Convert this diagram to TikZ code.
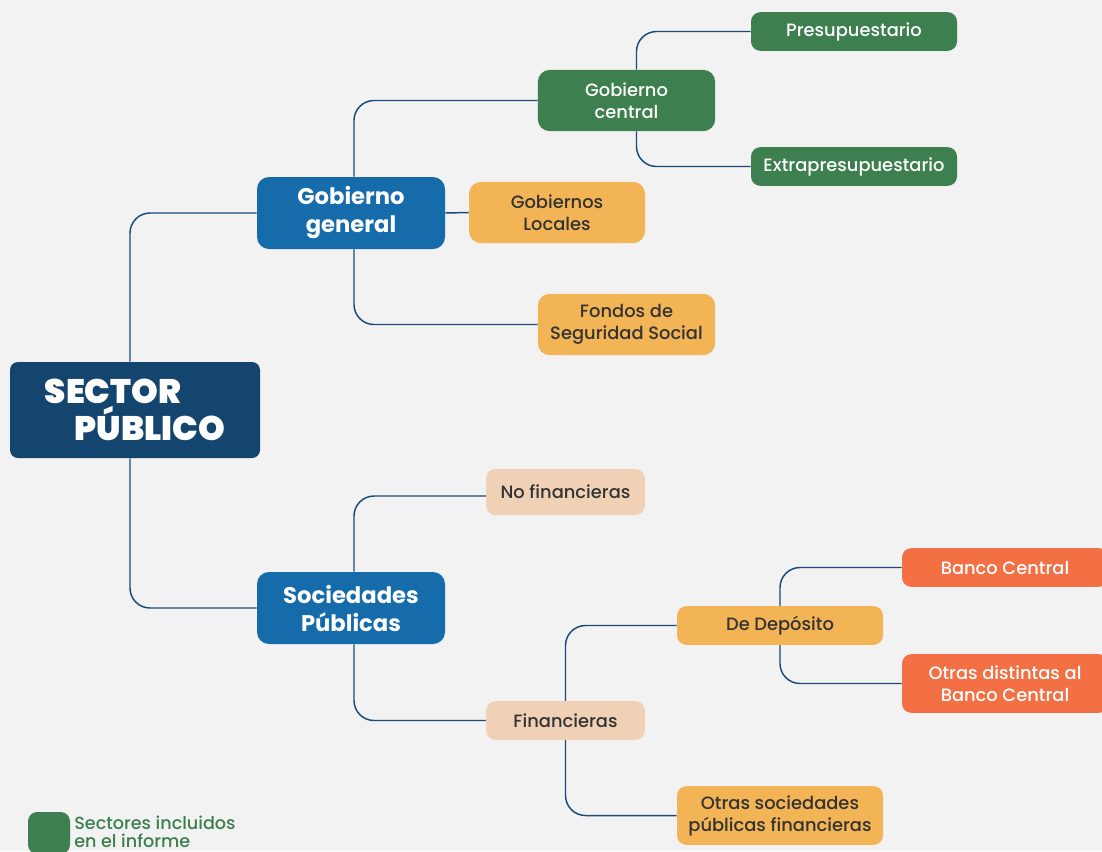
\documentclass[tikz,border=0pt]{standalone}
\usepackage{fontspec}
\setmainfont{Poppins}[UprightFont=* Medium,BoldFont=* Bold]
\newfontfamily\titulofont{Poppins Black}
\definecolor{fondo}{HTML}{F2F2F2}
\definecolor{marino}{HTML}{13456F}
\definecolor{azul}{HTML}{166CAB}
\definecolor{verde}{HTML}{3D7F4F}
\definecolor{naranja}{HTML}{F2B455}
\definecolor{durazno}{HTML}{F0D1B5}
\definecolor{coral}{HTML}{F37044}
\definecolor{linea}{HTML}{1B4A78}
\definecolor{texto}{HTML}{333333}
\begin{document}
\begin{tikzpicture}[x=0.75pt,y=-0.75pt]
\tikzstyle{every node}=[rectangle,rounded corners=9pt,inner sep=0pt,align=center,font=\fontsize{13.4}{16.5}\selectfont]
\tikzstyle{conn}=[draw=linea,line width=1.1pt,rounded corners=15pt]
\useasboundingbox (0,0) rectangle (1102,851);
\fill[fondo] (0,0) rectangle (1102,851);
\clip (0,0) rectangle (1102,851);
% raiz
\node[fill=marino,text=white,rounded corners=6pt,minimum width=187.5pt,minimum height=72pt,align=left,font=\fontsize{25.5}{28}\titulofont](sector) at (135,410) {SECTOR\\\hspace*{22.5pt}PÚBLICO};
% segundo nivel
\node[fill=azul,text=white,minimum width=141pt,minimum height=54pt,font=\fontsize{17}{21}\selectfont\bfseries](gobgen) at (351,213) {Gobierno\\general};
\node[fill=azul,text=white,minimum width=141pt,minimum height=54pt,font=\fontsize{17}{21}\selectfont\bfseries](socpub) at (351,608) {Sociedades\\Públicas};
% gobierno general
\node[fill=verde,text=white,minimum width=133pt,minimum height=46pt](gobcen) at (626.5,100.5) {Gobierno\\central};
\node[fill=verde,text=white,minimum width=154.5pt,minimum height=29pt,rounded corners=7pt](presup) at (854,31.5) {Presupuestario};
\node[fill=verde,text=white,minimum width=154.5pt,minimum height=29pt,rounded corners=7pt](extra) at (854,166.5) {Extrapresupuestario};
\node[fill=naranja,text=texto,minimum width=132pt,minimum height=46pt](gobloc) at (557,212.5) {Gobiernos\\Locales};
\node[fill=naranja,text=texto,minimum width=133pt,minimum height=46pt](fondos) at (626.5,324.5) {Fondos de\\Seguridad Social};
% sociedades publicas
\node[fill=durazno,text=texto,minimum width=119pt,minimum height=34.5pt,rounded corners=7pt](nofin) at (565.5,492) {No financieras};
\node[fill=durazno,text=texto,minimum width=119pt,minimum height=29pt,rounded corners=7pt](fin) at (565.5,720.5) {Financieras};
\node[fill=naranja,text=texto,minimum width=154.5pt,minimum height=29pt,rounded corners=7pt](dedep) at (780,625.5) {De Depósito};
\node[fill=naranja,text=texto,minimum width=154.5pt,minimum height=44pt,rounded corners=7pt](otrassoc) at (780,815.5) {Otras sociedades\\públicas financieras};
\node[fill=coral,text=white,minimum width=154.5pt,minimum height=29pt,rounded corners=7pt](banco) at (1005,567.5) {Banco Central};
\node[fill=coral,text=white,minimum width=154.5pt,minimum height=44pt,rounded corners=7pt](otrasdist) at (1005,683.5) {Otras distintas al\\Banco Central};
% conectores
\draw[conn] ([xshift=-3.75pt]sector.north) |- (gobgen.west);
\draw[conn] ([xshift=-3.75pt]sector.south) |- (socpub.west);
\draw[conn] ([xshift=2.25pt]gobgen.north) |- (gobcen.west);
\draw[conn] (gobgen.east) -- (gobloc.west);
\draw[conn] ([xshift=2.25pt]gobgen.south) |- (fondos.west);
\draw[conn] ([xshift=7.5pt]gobcen.north) |- (presup.west);
\draw[conn] ([xshift=7.5pt]gobcen.south) |- (extra.west);
\draw[conn] ([xshift=2.25pt]socpub.north) |- ([yshift=-3pt]nofin.west);
\draw[conn] ([xshift=2.25pt]socpub.south) |- (fin.west);
\draw[conn] (fin.north) |- (dedep.west);
\draw[conn] (fin.south) |- (otrassoc.west);
\draw[conn] (dedep.north) |- (banco.west);
\draw[conn] (dedep.south) |- (otrasdist.west);
% leyenda
\node[fill=verde,minimum size=31.5pt,rounded corners=7pt](leyenda) at (49,833) {};
\node[anchor=west,align=left,text=verde,font=\fontsize{13.2}{13.5}\selectfont](leytexto) at (74,832) {Sectores incluidos\\en el informe};
\end{tikzpicture}
\end{document}
